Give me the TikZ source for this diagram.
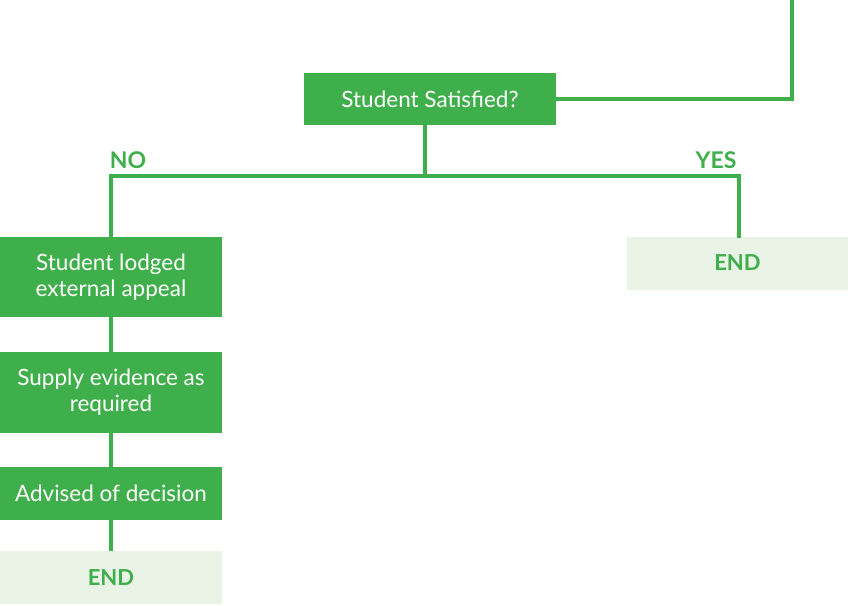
\documentclass[tikz,border=0pt]{standalone}
\usepackage{fontspec}
\setmainfont{Lato}
\definecolor{fgreen}{HTML}{3FAF4B}
\definecolor{lgreen}{HTML}{E9F3E6}
\begin{document}
\begin{tikzpicture}[x=1pt,y=-1pt,
  gbox/.style={fill=fgreen,draw=none,text=white,minimum width=222pt,align=center,font=\fontsize{22.5}{26}\selectfont,inner sep=0pt},
  ebox/.style={fill=lgreen,draw=none,text=fgreen,minimum width=221pt,minimum height=53pt,font=\fontsize{22}{26}\selectfont\bfseries,inner sep=0pt},
  conn/.style={draw=fgreen,line width=4pt},
  lbl/.style={text=fgreen,font=\fontsize{23}{26}\selectfont\bfseries,inner sep=0pt}]
\useasboundingbox (0,0) rectangle (848,605);
\node[gbox,minimum width=252pt,minimum height=52pt] (sat) at (430,99) {Student Satisfied?};
\node[gbox,minimum height=80pt] (lodge) at (111,277) {Student lodged\\external appeal};
\node[gbox,minimum height=81pt] (supply) at (111,392.5) {Supply evidence as\\required};
\node[gbox,minimum height=53pt] (adv) at (111,493.5) {Advised of decision};
\node[ebox,minimum width=222pt] (end1) at (111,577.5) {END};
\node[ebox] (end2) at (737.5,263) {END};
\coordinate (top) at (792,0);
\coordinate (split) at (425,176);
\node[lbl] (no) at (128,160) {NO};
\node[lbl] (yes) at (716,160) {YES};
\draw[conn] (top) |- (sat.east);
\draw[conn] (sat.south -| split) -- (split);
\draw[conn,line cap=rect] (lodge.north) |- (split) -| (end2.north -| 739,0);
\draw[conn] (lodge) -- (supply);
\draw[conn] (supply) -- (adv);
\draw[conn] (adv) -- (end1);
\end{tikzpicture}
\end{document}
